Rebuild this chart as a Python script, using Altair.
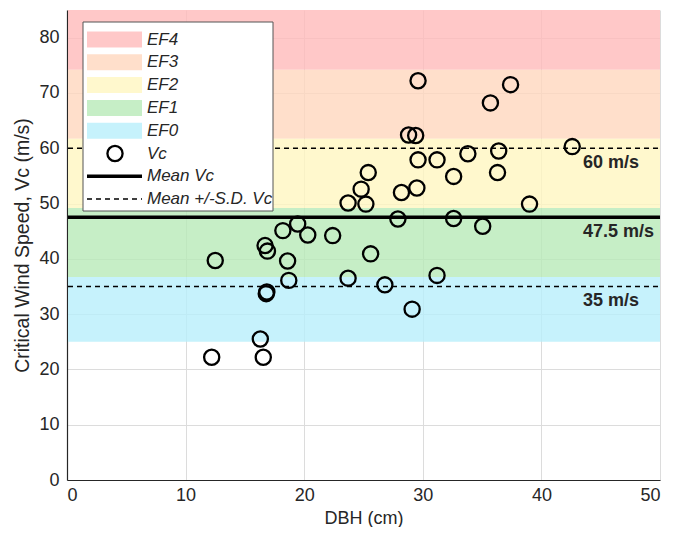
import altair as alt
import pandas as pd

# ---- data ----
dbh = [12.2, 16.3, 16.55, 12.5, 16.7, 16.9, 16.8, 16.85, 18.2, 18.6, 18.7, 19.45,
       20.3, 22.4, 25.6, 23.7, 26.8, 29.1, 31.2, 35.05, 32.6, 27.9, 29.6, 37.4,
       35.7, 28.8, 29.4, 42.6, 36.4, 33.8, 29.6, 31.2, 25.4, 36.3, 32.6, 24.8,
       29.5, 28.2, 23.7, 25.2, 39.0]
vc = [22.2, 25.5, 22.2, 39.7, 42.4, 41.4, 33.7, 34.0, 45.1, 39.6, 36.1, 46.3,
      44.3, 44.2, 40.9, 36.5, 35.3, 30.9, 37.0, 45.9, 47.3, 47.2, 72.2, 71.5,
      68.2, 62.4, 62.3, 60.3, 59.5, 59.0, 57.9, 57.9, 55.6, 55.6, 54.9, 52.6,
      52.8, 52.0, 50.1, 49.9, 49.9]

ef_names = ["EF4", "EF3", "EF2", "EF1", "EF0"]
ef_low = [74.2, 61.7, 49.2, 36.7, 25.0]
ef_high = [85.0, 74.2, 61.7, 49.2, 36.7]
ef_colors = ["#FFBABA", "#FFD7BE", "#FFF6C0", "#B8EAB8", "#B8EFFB"]

mean_vc = 47.5
sd_lines = [35.0, 60.0]
ref_labels = ["60 m/s", "47.5 m/s", "35 m/s"]
ref_values = [60.0, 47.5, 35.0]

W, H = 593, 470
FONT = "Liberation Sans"
TXT = "#262626"

xs = alt.Scale(domain=[0, 50], nice=False)
ys = alt.Scale(domain=[0, 85], nice=False)

bands = pd.DataFrame({"name": ef_names, "lo": ef_low, "hi": ef_high, "c": ef_colors})
band_layer = alt.Chart(bands).mark_rect(fillOpacity=0.8).encode(
    x=alt.value(1), x2=alt.value(W),
    y=alt.Y("lo:Q", scale=ys), y2="hi:Q",
    fill=alt.Fill("c:N", scale=None),
)

pts = pd.DataFrame({"dbh": dbh, "vc": vc})
base_axes = alt.Chart(pts).mark_point(opacity=0).encode(
    x=alt.X("dbh:Q", scale=xs, title="DBH (cm)",
            axis=alt.Axis(values=[0, 10, 20, 30, 40, 50], titleFontSize=18)),
    y=alt.Y("vc:Q", scale=ys, title="Critical Wind Speed, Vc (m/s)",
            axis=alt.Axis(values=[0, 10, 20, 30, 40, 50, 60, 70, 80], titleFontSize=19.5)),
)

sd_df = pd.DataFrame({"v": sd_lines})
sd_layer = alt.Chart(sd_df).mark_rule(color="black", strokeWidth=1.5, strokeDash=[5, 4]).encode(
    y=alt.Y("v:Q", scale=ys), x=alt.value(1), x2=alt.value(W))
mean_layer = alt.Chart(pd.DataFrame({"v": [mean_vc]})).mark_rule(color="black", strokeWidth=3.5).encode(
    y=alt.Y("v:Q", scale=ys), x=alt.value(1), x2=alt.value(W))

ann = pd.DataFrame({"t": ref_labels, "v": ref_values})
ann_layer = alt.Chart(ann).mark_text(
    align="left", baseline="middle", font=FONT, fontSize=18, fontWeight="bold",
    color=TXT, dy=15
).encode(x=alt.value(516), y=alt.Y("v:Q", scale=ys), text="t:N")

point_layer = alt.Chart(pts).mark_point(
    shape="circle", filled=False, color="black", strokeWidth=2.3, size=230, opacity=1
).encode(x=alt.X("dbh:Q", scale=xs), y=alt.Y("vc:Q", scale=ys))

# ---- legend (inside the plot, top-left) ----
leg_items = ef_names + ["Vc", "Mean Vc", "Mean +/-S.D. Vc"]
leg_rows = list(range(len(leg_items)))
ROW0, ROWH = 29.5, 22.8
leg = pd.DataFrame({"label": leg_items, "row": leg_rows})
leg["yc"] = ROW0 + leg["row"] * ROWH

leg_box = alt.Chart(pd.DataFrame({"a": [0]})).mark_rect(
    fill="white", stroke="#555555", strokeWidth=1
).encode(x=alt.value(16), x2=alt.value(206), y=alt.value(12), y2=alt.value(201))

sw = pd.DataFrame({"c": ef_colors, "row": leg_rows[:5]})
sw["y0"] = ROW0 + sw["row"] * ROWH - 8
sw["y1"] = ROW0 + sw["row"] * ROWH + 8
leg_sw = alt.Chart(sw).mark_rect(fillOpacity=0.8).encode(
    x=alt.value(20), x2=alt.value(75),
    y=alt.Y("y0:Q", scale=None), y2="y1:Q",
    fill=alt.Fill("c:N", scale=None))

leg_txt = alt.Chart(leg).mark_text(
    align="left", baseline="middle", font=FONT, fontSize=17, fontStyle="italic", color=TXT
).encode(x=alt.value(80), y=alt.Y("yc:Q", scale=None), text="label:N")

leg_circ = alt.Chart(leg[leg["label"] == "Vc"]).mark_point(
    shape="circle", filled=False, color="black", strokeWidth=2.3, size=230, opacity=1
).encode(x=alt.value(48), y=alt.Y("yc:Q", scale=None))

leg_mean = alt.Chart(leg[leg["label"] == "Mean Vc"]).mark_rule(color="black", strokeWidth=3.5).encode(
    x=alt.value(20), x2=alt.value(75), y=alt.Y("yc:Q", scale=None))
leg_sd = alt.Chart(leg[leg["label"] == "Mean +/-S.D. Vc"]).mark_rule(
    color="black", strokeWidth=1.5, strokeDash=[5, 4]).encode(
    x=alt.value(20), x2=alt.value(75), y=alt.Y("yc:Q", scale=None))

chart = alt.layer(
    band_layer, base_axes, sd_layer, mean_layer, ann_layer, point_layer,
    leg_box, leg_sw, leg_txt, leg_circ, leg_mean, leg_sd
).properties(
    width=W, height=H,
    autosize=alt.AutoSizeParams(type="none"),
    padding={"left": 59, "top": 2, "right": 8, "bottom": 47},
).configure_view(strokeWidth=0).configure_axis(
    labelFont=FONT, titleFont=FONT, labelFontSize=18,
    labelColor=TXT, titleColor=TXT, titleFontWeight="normal",
    domainColor=TXT, domainWidth=1.2, ticks=False, labelPadding=8,
    gridColor="#DCDCDC", gridWidth=1,
).configure_axisY(titlePadding=6).configure_axisX(titlePadding=5, labelPadding=6)

chart.save("out.html", embed_options={"renderer": "svg", "actions": False})
